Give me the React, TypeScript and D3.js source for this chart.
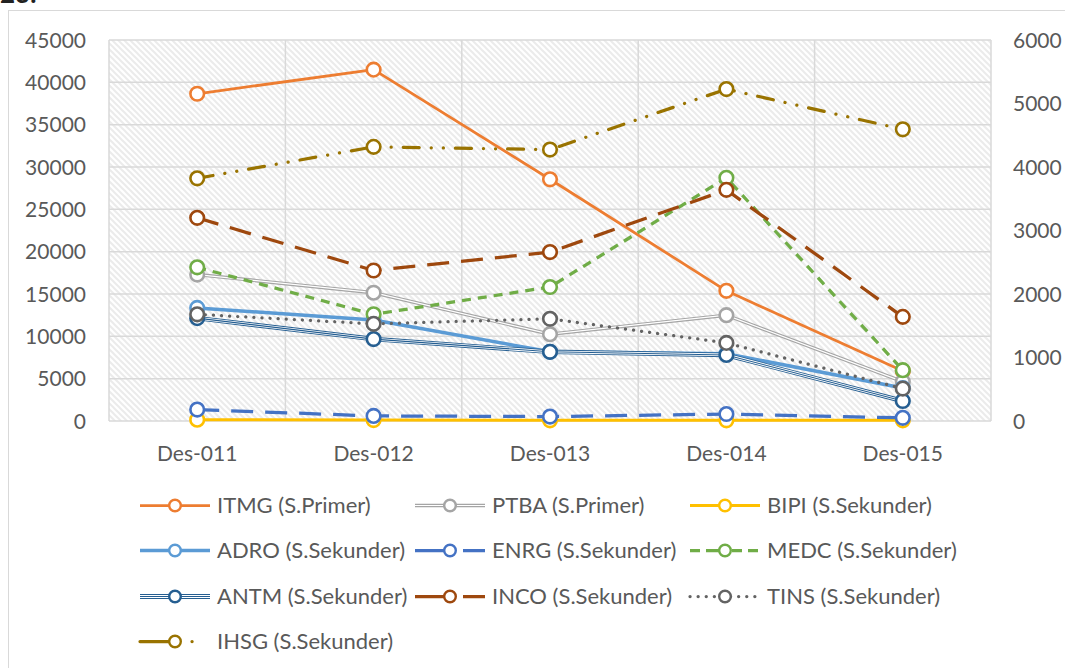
import React from 'react'
import * as d3 from 'd3'

const categories = ['Des-011', 'Des-012', 'Des-013', 'Des-014', 'Des-015']
const leftTicks = [0, 5000, 10000, 15000, 20000, 25000, 30000, 35000, 40000, 45000]
const rightTicks = [0, 1000, 2000, 3000, 4000, 5000, 6000]

// primary axis
const itmg = [38650, 41500, 28550, 15375, 5900]
const ptba = [17300, 15150, 10250, 12500, 4650]
// secondary axis
const bipi = [20, 15, 10, 10, 10]
const adro = [1780, 1590, 1090, 1060, 520]
const enrg = [180, 80, 70, 110, 50]
const medc = [2420, 1680, 2110, 3830, 800]
const antm = [1620, 1290, 1090, 1040, 315]
const inco = [3200, 2370, 2660, 3640, 1640]
const tins = [1680, 1530, 1610, 1230, 510]
const ihsg = [3822, 4317, 4274, 5227, 4593]

type Style = 'solid' | 'double' | 'triple' | 'dash' | 'longdash' | 'dot' | 'dashdotdot'

interface Series {
  name: string
  values: number[]
  axis: 'left' | 'right'
  color: string
  style: Style
  width: number
}

const series: Series[] = [
  { name: 'ITMG (S.Primer)', values: itmg, axis: 'left', color: '#ED7D31', style: 'solid', width: 2.75 },
  { name: 'PTBA (S.Primer)', values: ptba, axis: 'left', color: '#A5A5A5', style: 'double', width: 3.5 },
  { name: 'BIPI (S.Sekunder)', values: bipi, axis: 'right', color: '#FFC000', style: 'solid', width: 3 },
  { name: 'ADRO (S.Sekunder)', values: adro, axis: 'right', color: '#5B9BD5', style: 'solid', width: 3.5 },
  { name: 'ENRG (S.Sekunder)', values: enrg, axis: 'right', color: '#4472C4', style: 'longdash', width: 3.25 },
  { name: 'MEDC (S.Sekunder)', values: medc, axis: 'right', color: '#70AD47', style: 'dash', width: 3.25 },
  { name: 'ANTM (S.Sekunder)', values: antm, axis: 'right', color: '#255E91', style: 'triple', width: 4.5 },
  { name: 'INCO (S.Sekunder)', values: inco, axis: 'right', color: '#9E480E', style: 'longdash', width: 3.25 },
  { name: 'TINS (S.Sekunder)', values: tins, axis: 'right', color: '#636363', style: 'dot', width: 3.25 },
  { name: 'IHSG (S.Sekunder)', values: ihsg, axis: 'right', color: '#997300', style: 'dashdotdot', width: 3.25 },
]

const W = 1065
const H = 668
const plot = { left: 109, right: 991, top: 40, bottom: 421 }
const font = 'Lato, "Open Sans", sans-serif'
const textColor = '#595959'

const x = d3.scaleBand<string>().domain(categories).range([plot.left, plot.right])
const yL = d3.scaleLinear().domain([0, 45000]).range([plot.bottom, plot.top])
const yR = d3.scaleLinear().domain([0, 6000]).range([plot.bottom, plot.top])

const dashFor = (s: Style, legend: boolean) => {
  if (s === 'dash') return legend ? '10 6 14 6 0 6 10 6 10' : '9 7'
  if (s === 'longdash') return legend ? '36 12 22' : '22 12'
  if (s === 'dot') return legend ? '0.1 8' : '0.1 8'
  if (s === 'dashdotdot') return legend ? '32 20 0.1 100' : '16 12 0.1 12 0.1 12'
  return undefined
}

const StyledPath = ({ d, s, legend = false }: { d: string; s: Series; legend?: boolean }) => {
  if (s.style === 'double') {
    return (
      <g fill="none">
        <path d={d} stroke={s.color} strokeWidth={s.width} />
        <path d={d} stroke="#fff" strokeWidth={s.width * 0.35} />
      </g>
    )
  }
  if (s.style === 'triple') {
    return (
      <g fill="none">
        <path d={d} stroke={s.color} strokeWidth={legend ? 5 : s.width} />
        <path d={d} stroke="#fff" strokeWidth={legend ? 3 : s.width * 0.62} />
        <path d={d} stroke={s.color} strokeWidth={legend ? 1 : s.width * 0.25} />
      </g>
    )
  }
  const round = s.style === 'dot' || s.style === 'dashdotdot'
  return (
    <path
      d={d}
      fill="none"
      stroke={s.color}
      strokeWidth={s.width}
      strokeDasharray={dashFor(s.style, legend)}
      strokeLinecap={round ? 'round' : 'butt'}
      strokeLinejoin="round"
    />
  )
}

const legendCols = [140, 415, 690]
const legendRows = [505, 550, 596, 641]

export default function App() {
  const line = d3.line<[number, number]>()

  return (
    <svg
      width={W}
      height={H}
      style={{ position: 'absolute', left: 0, top: 0, background: '#fff' }}
      fontFamily={font}
    >
      <defs>
        <pattern id="hatch" patternUnits="userSpaceOnUse" width={6} height={6}>
          <rect width={6} height={6} fill="#fff" />
          <path d="M-1,-1 L7,7 M-1,5 L1,7 M5,-1 L7,1" stroke="#ebebeb" strokeWidth={2} />
        </pattern>
      </defs>

      <text x={0} y={3} fontSize={26} fontWeight="bold" fill="#222">23.</text>
      <rect x={8.5} y={10.5} width={W} height={H} fill="#fff" stroke="#d9d9d9" />

      <rect
        x={plot.left}
        y={plot.top}
        width={plot.right - plot.left}
        height={plot.bottom - plot.top}
        fill="url(#hatch)"
      />

      {/* gridlines */}
      {leftTicks.map((t) => (
        <line key={t} x1={plot.left} x2={plot.right} y1={yL(t)} y2={yL(t)} stroke="#d9d9d9" strokeWidth={1.5} />
      ))}
      {categories.map((c) => (
        <line key={c} x1={x(c)} x2={x(c)} y1={plot.top} y2={plot.bottom} stroke="#d9d9d9" strokeWidth={1.5} />
      ))}
      <line x1={plot.right} x2={plot.right} y1={plot.top} y2={plot.bottom} stroke="#d9d9d9" strokeWidth={1.5} />

      {/* axis labels */}
      {leftTicks.map((t) => (
        <text key={t} x={86} y={yL(t)} dy="0.36em" textAnchor="end" fontSize={21} fill={textColor}>
          {t}
        </text>
      ))}
      {rightTicks.map((t) => (
        <text key={t} x={1013} y={yR(t)} dy="0.36em" textAnchor="start" fontSize={21} fill={textColor}>
          {t}
        </text>
      ))}
      {categories.map((c) => (
        <text key={c} x={x(c)! + x.bandwidth() / 2} y={453} dy="0.36em" textAnchor="middle" fontSize={21} fill={textColor}>
          {c}
        </text>
      ))}

      {/* series */}
      {series.map((s) => {
        const y = s.axis === 'left' ? yL : yR
        const pts = s.values.map((v, i) => [x(categories[i])! + x.bandwidth() / 2, y(v)] as [number, number])
        return (
          <g key={s.name}>
            <StyledPath d={line(pts) || ''} s={s} />
            {pts.map((p, i) => (
              <circle key={i} cx={p[0]} cy={p[1]} r={6.8} fill="#fff" stroke={s.color} strokeWidth={2.6} />
            ))}
          </g>
        )
      })}

      {/* legend */}
      {series.map((s, i) => {
        const cx = legendCols[i % 3]
        const cy = legendRows[Math.floor(i / 3)] + 0.5
        const d = `M${cx},${cy}L${cx + 70},${cy}`
        return (
          <g key={s.name}>
            <StyledPath d={d} s={s} legend />
            <circle cx={cx + 35} cy={cy} r={5.8} fill="#fff" stroke={s.color} strokeWidth={2.4} />
            <text x={cx + 77} y={cy} dy="0.36em" fontSize={22} fill={textColor}>
              {s.name}
            </text>
          </g>
        )
      })}
    </svg>
  )
}
